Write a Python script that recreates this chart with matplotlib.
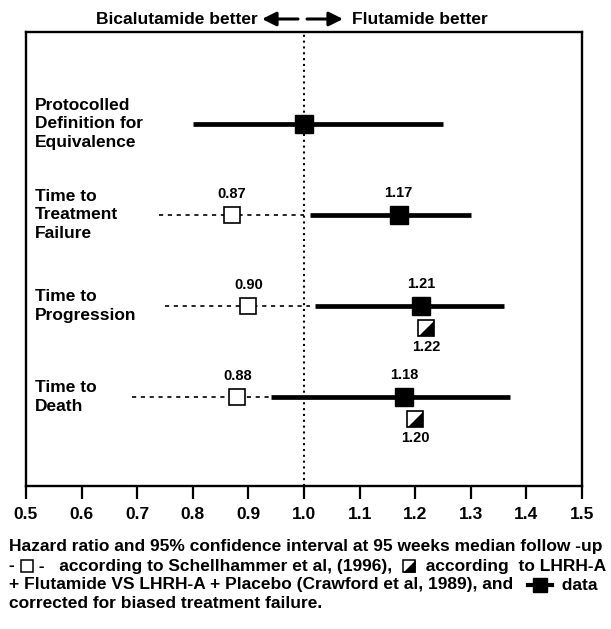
import numpy as np
import matplotlib
matplotlib.use("Agg")
import matplotlib.pyplot as plt
from matplotlib.lines import Line2D
from matplotlib.transforms import blended_transform_factory

plt.rcParams['font.family'] = ['Liberation Sans', 'DejaVu Sans']
plt.rcParams['font.weight'] = 'bold'

# rows, top to bottom
row_labels = ['Protocolled\nDefinition for\nEquivalence',
              'Time to\nTreatment\nFailure',
              'Time to\nProgression',
              'Time to\nDeath']

# data corrected for biased treatment failure (black squares, solid CI)
corr_hr = [1.00, 1.17, 1.21, 1.18]
corr_lo = [0.80, 1.01, 1.02, 0.94]
corr_hi = [1.25, 1.30, 1.36, 1.37]
corr_show_label = [False, True, True, True]

# Schellhammer et al 1996 (open squares, dashed CI), rows 1-3
sch_rows = [1, 2, 3]
sch_hr = [0.87, 0.90, 0.88]
sch_lo = [0.74, 0.75, 0.69]
sch_hi = [1.00, 1.01, 0.94]

# Crawford et al 1989 (half filled squares)
cra_rows = [2, 3]
cra_hr = [1.22, 1.20]

xticks = [0.5, 0.6, 0.7, 0.8, 0.9, 1.0, 1.1, 1.2, 1.3, 1.4, 1.5]

W, H = 611, 629
fig = plt.figure(figsize=(W/100, H/100), dpi=100)
ax = fig.add_axes([26/W, 1-486/H, 556/W, 454/H])

ax.set_xlim(0.5, 1.5)
ax.set_ylim(3.98, -1.01)

ax.axvline(1.0, color='black', lw=1.5, ls=(0, (1, 1.8)), zorder=1)

tri = [(-1, -1), (1, -1), (1, 1), (-1, -1)]

# dashed CI + open squares
for r, h, lo, hi in zip(sch_rows, sch_hr, sch_lo, sch_hi):
    ax.plot([lo, hi], [r, r], color='black', lw=1.2, ls=(0, (2.5, 2.8)), zorder=2)
    ax.plot(h, r, marker='s', ms=11, mfc='white', mec='black', mew=1.2, zorder=4)
    ax.text(h, r - 0.23, f'{h:.2f}', ha='center', va='center', fontsize=10.5)

# solid CI + black squares
for r, (h, lo, hi, show) in enumerate(zip(corr_hr, corr_lo, corr_hi, corr_show_label)):
    ax.plot([lo, hi], [r, r], color='black', lw=3.4, solid_capstyle='butt', zorder=3)
    ax.plot(h, r, marker='s', ms=12.5, color='black', zorder=5)
    if show:
        ax.text(h, r - 0.24, f'{h:.2f}', ha='center', va='center', fontsize=10.5)

# half filled squares
for r, h in zip(cra_rows, cra_hr):
    ax.plot(h, r + 0.24, marker='s', ms=11, mfc='white', mec='black', mew=1.2, zorder=4)
    ax.plot(h, r + 0.24, marker=tri, ms=11, color='black', mew=0, zorder=5)
    ax.text(h, r + 0.45, f'{h:.2f}', ha='center', va='center', fontsize=10.5)

# row labels
trans = blended_transform_factory(ax.transAxes, ax.transData)
for r, lab in enumerate(row_labels):
    ax.text(0.016, r, lab, transform=trans, ha='left', va='center',
            fontsize=12.5, linespacing=1.3)

ax.set_yticks([])
ax.set_xticks(xticks)
ax.set_xticklabels([f'{t:.1f}' for t in xticks], fontsize=12.5)
ax.tick_params(axis='x', direction='out', length=9, width=1.6, pad=6)
for s in ax.spines.values():
    s.set_linewidth(1.7)

# header
hy = 1 - 19/H
fig.text(258/W, hy, 'Bicalutamide better', ha='right', va='center', fontsize=12.5)
fig.text(352/W, hy, 'Flutamide better', ha='left', va='center', fontsize=12.5)
arrow = dict(arrowstyle='-|>,head_length=0.7,head_width=0.35', color='black',
             lw=2.2, mutation_scale=12, shrinkA=0, shrinkB=0)
ax.annotate('', xy=(262/W, hy), xytext=(298/W, hy),
            xycoords='figure fraction', textcoords='figure fraction',
            arrowprops=arrow, annotation_clip=False)
ax.annotate('', xy=(343/W, hy), xytext=(307/W, hy),
            xycoords='figure fraction', textcoords='figure fraction',
            arrowprops=arrow, annotation_clip=False)

# caption, laid out piece by piece so the legend symbols sit in the text
caption = [
    [('t', 'Hazard ratio and 95% confidence interval at 95 weeks median follow -up')],
    [('t', '- '), ('open', 14), ('t', ' -   according to Schellhammer et al, (1996),  '),
     ('half', 14), ('t', '  according  to LHRH-A')],
    [('t', '+ Flutamide VS LHRH-A + Placebo (Crawford et al, 1989), and   '),
     ('black', 24), ('t', '  data')],
    [('t', 'corrected for biased treatment failure.')],
]
cap_y = [547, 566, 585, 604]
cap_size = 12.5

renderer = fig.canvas.get_renderer()
for parts, y in zip(caption, cap_y):
    x = 9
    yf = 1 - y/H
    for p in parts:
        if p[0] == 't':
            t = fig.text(x/W, yf, p[1], ha='left', va='center', fontsize=cap_size)
            x = t.get_window_extent(renderer).x1
        else:
            w = p[1]
            cx = (x + w/2) / W
            if p[0] == 'black':
                fig.add_artist(Line2D([x/W, (x + w)/W], [yf, yf], color='black', lw=3,
                                      transform=fig.transFigure))
                fig.add_artist(Line2D([cx], [yf], marker='s', ms=10, color='black',
                                      transform=fig.transFigure))
            else:
                fig.add_artist(Line2D([cx], [yf], marker='s', ms=9, mfc='white',
                                      mec='black', mew=1.1, transform=fig.transFigure))
                if p[0] == 'half':
                    fig.add_artist(Line2D([cx], [yf], marker=tri, ms=9, color='black',
                                          mew=0, transform=fig.transFigure))
            x += w

fig.savefig('out.png', dpi=100)
